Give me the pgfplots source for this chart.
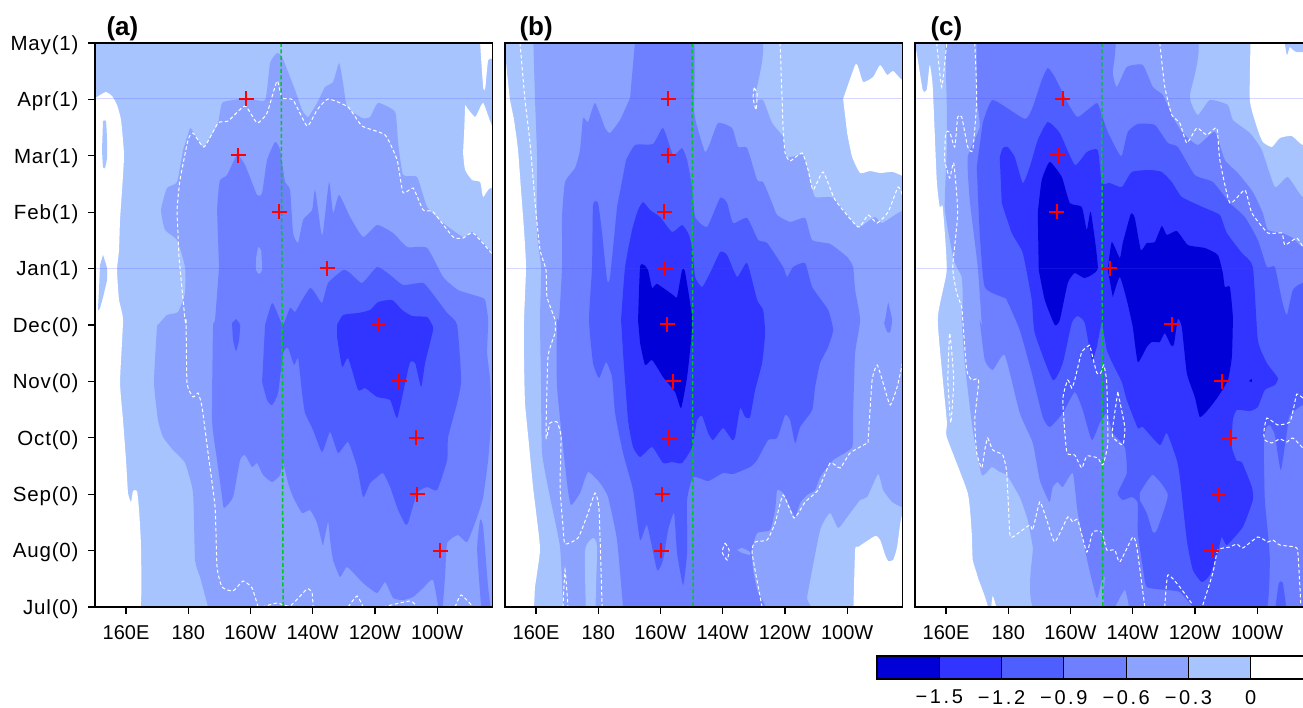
\documentclass[border=0pt]{standalone}
\usepackage{pgfplots}
\pgfplotsset{compat=1.18}
\usepackage{fontspec}
\setmainfont{Liberation Sans}
\newfontfamily\tickf[LetterSpace=4]{Liberation Sans}
\newfontfamily\cbf[LetterSpace=13]{Liberation Sans}
\definecolor{L1}{HTML}{A7C4FF}
\definecolor{L2}{HTML}{8BA2FF}
\definecolor{L3}{HTML}{6E7FFF}
\definecolor{L4}{HTML}{4F5FFF}
\definecolor{L5}{HTML}{3135FF}
\definecolor{L6}{HTML}{0000D7}
\definecolor{gr}{HTML}{00C820}
\newcommand\area[2]{\addplot[fill=#1,draw=none,forget plot,mark=none,smooth,tension=.3] coordinates {#2};}
\newcommand\sig[1]{\addplot[white,line width=1pt,dash pattern=on 3.5pt off 2.5pt,mark=none,forget plot,smooth,tension=.3] coordinates {#1};}
\newcommand\green[1]{\addplot[gr,line width=1.5pt,dash pattern=on 4pt off 2.5pt,mark=none,forget plot] coordinates {#1};}
\newcommand\faint[1]{\addplot[color=blue!70!white,opacity=.22,line width=.8pt,mark=none,forget plot] coordinates {#1};}
\newcommand\cross[1]{\addplot[only marks,mark=+,mark size=7.5pt,red,line width=2pt,forget plot] coordinates {#1};}
\pgfplotsset{
 panel/.style={
  scale only axis,width=397.5pt,height=564pt,anchor=south west,
  x filter/.expression={160+(x-#1)/3.11},
  y filter/.expression={(607-y)/56.4},
  xmin=150.03,xmax=277.8,ymin=0,ymax=10,
  axis on top,axis line style={line width=1.5pt},
  tick pos=left,tick align=outside,major tick length=7pt,
  tick style={line width=1.2pt,black},
  xtick={160,180,200,220,240,260},
  xticklabels={160E,180,160W,140W,120W,100W},
  xticklabel style={font=\fontsize{20}{22}\selectfont,yshift=-8pt},
  yticklabel style={font=\tickf\fontsize{20.5}{22}\selectfont,xshift=-6pt,yshift=-2pt},
  ytick=\empty,
 }
}
\begin{document}
\begin{tikzpicture}
\path[use as bounding box] (0,0) rectangle (1303pt,707pt);
\clip (0,0) rectangle (1303pt,707pt);
\node[anchor=west,font=\bfseries\fontsize{26}{28}\selectfont] at (103pt,678pt) {(a)};
\node[anchor=west,font=\bfseries\fontsize{26}{28}\selectfont] at (516pt,678pt) {(b)};
\node[anchor=west,font=\bfseries\fontsize{26}{28}\selectfont] at (927pt,678pt) {(c)};
%% ---------------- panel a
\begin{axis}[panel=126,at={(95pt,100pt)},
  ytick={0,1,2,3,4,5,6,7,8,9,10},
  yticklabels={Jul(0),Aug(0),Sep(0),Oct(0),Nov(0),Dec(0),Jan(1),Feb(1),Mar(1),Apr(1),May(1)}]
\area{L1}{(80,30)(510,30)(510,620)(80,620)}
\area{white}{(80,98)(95,98)(100,95)(106,92)(112,96)(117,105)(121,120)(124,155)(122,190)(120,220)(119,250)(117,270)(119,300)(123,320)(120,382)(123,420)(126,460)(128,493)(131,502)(133,491)(137,491)(139,510)(141,550)(138,620)(80,620)}
\area{white}{(480,30)(480,43)(483,87)(485,89)(488,60)(493,59)(510,59)(510,30)}
\area{white}{(465,105)(475,117)(483,103)(493,128)(510,135)(510,190)(490,188)(483,197)(480,182)(472,180)(465,170)(463,153)(464,133)}
\area{L1}{(103,121)(106,121)(107,140)(107,158)(105,168)(103,167)(102,150)}
\area{L1}{(103,255)(107,268)(107,280)(103,297)(100,308)(98,310)(99,290)(100,265)}
\area{L2}{(190,128)(192,130)(203,147)(213,133)(218,123)(222,103)(233,100)(247,98)(265,100)(270,63)(277,53)(282,57)(295,90)(302,110)(308,117)(317,103)(325,87)(333,82)(339,63)(343,83)(347,107)(362,118)(370,117)(378,103)(395,112)(398,143)(403,175)(417,177)(427,207)(443,223)(463,237)(473,232)(487,247)(493,253)(510,260)(510,620)(210,620)(208,607)(200,577)(195,560)(193,493)(185,463)(173,450)(163,437)(158,420)(154,382)(157,327)(158,325)(167,315)(178,312)(185,293)(185,267)(177,240)(165,230)(161,210)(167,188)(177,182)(183,150)}
\area{L3}{(217,210)(218,195)(220,180)(227,175)(237,155)(245,165)(257,195)(262,193)(267,160)(275,142)(280,150)(285,182)(290,190)(293,233)(298,243)(303,220)(312,210)(315,190)(321,232)(323,232)(329,182)(333,213)(339,195)(350,217)(363,237)(377,225)(393,233)(407,247)(427,248)(443,277)(458,290)(480,297)(485,300)(488,320)(487,353)(490,380)(491,420)(488,460)(483,497)(477,517)(467,542)(458,535)(447,543)(445,575)(441,620)(433,580)(423,588)(413,597)(403,600)(393,598)(385,582)(377,593)(363,583)(347,567)(340,577)(333,560)(330,540)(328,522)(323,545)(322,543)(317,523)(310,510)(302,513)(293,497)(288,483)(283,463)(280,475)(272,482)(263,475)(257,463)(252,467)(245,455)(240,460)(233,497)(224,508)(222,497)(217,460)(212,420)(213,327)(215,320)(219,267)}
\area{L3}{(482,620)(477,550)(480,520)(483,527)(488,587)(492,620)}
\area{L2}{(258,247)(261,250)(262,270)(259,274)(256,270)(256,258)}
\area{L4}{(265,325)(272,303)(278,315)(283,325)(290,308)(295,312)(302,300)(310,288)(315,293)(322,303)(328,283)(343,270)(350,273)(362,283)(377,267)(390,275)(403,285)(423,283)(435,297)(447,313)(457,325)(461,380)(457,403)(448,437)(447,460)(437,490)(427,487)(417,493)(408,523)(405,524)(398,510)(390,487)(383,473)(377,477)(370,483)(363,497)(357,467)(348,442)(338,453)(330,432)(322,452)(313,430)(305,413)(302,393)(298,358)(294,365)(288,348)(283,353)(278,393)(272,405)(267,400)(262,382)}
\area{L4}{(236,319)(240,325)(239,340)(236,351)(233,340)(232,323)}
\area{L5}{(337,325)(343,315)(358,313)(370,310)(378,302)(392,300)(402,310)(412,316)(427,317)(432,325)(433,330)(425,363)(421,387)(415,363)(410,362)(405,383)(397,418)(390,400)(377,397)(365,388)(358,390)(348,358)(342,367)(337,337)}
\faint{(95,98.6)(493,98.6)}
\faint{(95,268)(493,268)}
\sig{(258,607)(252,588)(243,581)(233,591)(222,587)(217,567)(215,507)(208,453)(202,407)(198,393)(193,397)(187,383)(186,320)(185,320)(179,257)(178,233)(177,210)(180,180)(188,140)(193,133)(204,147)(218,123)(228,121)(245,106)(257,123)(267,113)(277,81)(282,98)(293,100)(307,126)(317,110)(328,99)(348,107)(362,126)(385,135)(397,160)(403,193)(413,188)(423,210)(433,212)(453,237)(463,238)(473,233)(493,255)}
\sig{(262,607)(277,603)(290,606)(307,589)(312,593)(313,607)}
\sig{(348,607)(357,596)(363,607)}
\sig{(383,607)(410,601)(417,607)}
\sig{(455,607)(461,595)(473,607)}
\green{(281,43)(283,607)}
\cross{(246,99)(238,155.3)(279,212)(327,268.3)(378,324.3)(399,381.3)(416,437.7)(417,494.3)(440,550.7)}
\end{axis}
%% ---------------- panel b
\begin{axis}[panel=536,at={(505pt,100pt)}]
\area{L1}{(490,30)(920,30)(920,620)(490,620)}
\area{white}{(490,60)(505,60)(507,73)(510,100)(514,120)(518,150)(521,190)(524,230)(526,267)(524,320)(524,360)(525,403)(529,445)(533,487)(537,520)(540,550)(535,587)(531,620)(490,620)}
\area{white}{(853,620)(855,550)(858,547)(875,536)(880,540)(885,555)(888,561)(893,560)(897,547)(902,515)(920,500)(920,620)}
\area{white}{(843,99)(855,65)(858,67)(863,82)(873,77)(880,65)(887,75)(893,71)(902,80)(920,85)(920,178)(893,172)(880,173)(870,171)(860,173)(852,157)(847,133)}
\area{L2}{(533,30)(755,30)(755,97)(763,100)(772,123)(783,137)(787,157)(803,155)(810,180)(815,197)(833,198)(857,227)(867,222)(875,217)(882,223)(900,212)(920,212)(920,507)(902,507)(892,502)(883,490)(878,474)(867,497)(860,500)(847,517)(838,528)(830,513)(820,530)(807,597)(805,620)(564,620)(563,607)(560,547)(550,497)(542,453)(541,387)(540,320)(541,267)(537,233)(537,157)(535,100)}
\area{L1}{(586,620)(585,550)(593,538)(597,547)(595,620)}
\area{L3}{(636,30)(692,30)(694,110)(698,130)(705,152)(710,143)(718,123)(732,128)(738,147)(747,148)(757,180)(763,182)(772,203)(777,215)(790,222)(805,218)(812,240)(830,244)(847,257)(853,267)(855,290)(860,320)(855,353)(853,413)(852,447)(833,460)(820,477)(815,490)(807,495)(800,503)(795,517)(790,507)(783,493)(777,490)(775,510)(770,530)(757,533)(752,550)(753,570)(757,590)(764,620)(625,620)(623,607)(617,540)(608,497)(600,483)(588,472)(580,493)(571,505)(567,483)(557,387)(557,320)(559,320)(562,267)(562,217)(565,182)(575,168)(580,150)(583,118)(588,122)(595,103)(605,128)(610,133)(620,120)(630,98)}
\area{L2}{(737,550)(742,548)(750,552)(750,555)(742,553)}
\area{L3}{(888,302)(892,320)(890,332)(887,332)(884,323)(885,320)}
\area{L4}{(626,160)(635,145)(653,144)(663,128)(673,155)(682,148)(687,160)(692,187)(695,217)(707,227)(720,198)(727,203)(733,223)(747,218)(758,240)(767,243)(783,267)(787,277)(793,267)(805,263)(812,287)(828,310)(833,330)(828,347)(820,363)(815,387)(812,410)(800,427)(795,443)(790,420)(785,415)(777,438)(768,440)(757,460)(750,467)(733,474)(723,473)(708,481)(693,477)(687,500)(687,553)(683,585)(677,553)(674,513)(668,530)(663,560)(657,570)(647,525)(640,540)(633,490)(623,453)(615,413)(612,377)(606,362)(599,378)(593,363)(589,320)(592,267)(593,205)(598,203)(602,233)(607,280)(610,277)(617,207)}
\area{L5}{(621,320)(625,267)(632,230)(638,210)(643,202)(650,210)(660,217)(672,232)(682,225)(688,233)(692,247)(695,277)(702,287)(710,273)(720,252)(727,255)(737,277)(747,263)(757,300)(763,310)(765,333)(762,363)(755,390)(750,417)(745,417)(740,408)(735,437)(732,440)(723,428)(713,440)(708,433)(702,416)(697,420)(692,447)(682,463)(672,462)(663,463)(652,447)(640,457)(633,447)(628,420)(623,353)}
\area{L6}{(638,320)(640,267)(644,265)(648,270)(652,288)(657,284)(673,295)(677,297)(682,270)(685,272)(692,317)(691,340)(687,377)(681,408)(675,392)(663,377)(652,360)(645,365)(640,343)}
\faint{(505,98.6)(903,98.6)}
\faint{(505,268)(903,268)}
\sig{(520,43)(525,100)(530,143)(536,213)(540,250)(546,270)(547,297)(555,320)(555,333)(548,357)(546,437)(550,423)(557,422)(561,437)(560,487)(563,527)(565,544)(578,538)(588,513)(595,493)(599,510)(602,603)(603,607)}
\sig{(563,607)(565,570)(568,607)}
\sig{(780,43)(783,127)(785,153)(790,161)(802,153)(808,170)(813,190)(823,172)(835,200)(858,227)(868,215)(877,223)(888,212)(898,187)(903,197)}
\sig{(785,43)(788,44)}
\sig{(754,88)(757,93)(756,110)(753,98)(754,88)}
\sig{(762,607)(752,553)(755,542)(767,540)(775,523)(783,495)(794,518)(805,502)(818,490)(830,463)(840,468)(850,453)(867,443)(868,440)(872,380)(877,365)(883,383)(890,405)(897,387)(903,360)}
\sig{(725,543)(729,550)(727,560)(722,552)(725,543)}
\green{(692,43)(693,607)}
\cross{(668,99)(668,155.3)(664,212)(665,268.3)(667,324.3)(673,381.3)(669,437.7)(662,494.3)(661,550.7)}
\end{axis}
%% ---------------- panel c
\begin{axis}[panel=946.3,at={(915pt,100pt)}]
\area{L1}{(900,30)(1330,30)(1330,620)(900,620)}
\area{white}{(900,50)(915,50)(917,53)(923,90)(927,90)(930,65)(933,87)(937,180)(940,207)(943,207)(947,270)(938,320)(947,420)(947,437)(968,493)(972,533)(973,560)(978,577)(988,620)(900,620)}
\area{white}{(991,612)(993,596)(998,612)}
\area{white}{(1251,30)(1250,100)(1258,130)(1263,142)(1272,147)(1280,138)(1292,136)(1303,145)(1330,150)(1330,30)}
\area{L1}{(1283,30)(1287,55)(1290,47)(1297,52)(1330,50)(1330,30)}
\area{L2}{(945,30)(1190,30)(1190,97)(1198,115)(1210,100)(1228,105)(1233,120)(1250,133)(1262,150)(1275,187)(1288,177)(1303,197)(1330,197)(1330,620)(1045,620)(1033,547)(1028,520)(1020,497)(1007,475)(1000,472)(992,467)(982,475)(973,430)(965,363)(962,320)(963,300)(962,277)(955,263)(950,240)(945,207)(947,150)(947,100)}
\area{L3}{(977,30)(1110,30)(1113,73)(1117,87)(1127,67)(1143,65)(1153,87)(1163,95)(1173,117)(1183,133)(1198,145)(1215,132)(1225,160)(1238,173)(1253,192)(1263,213)(1268,230)(1282,233)(1293,238)(1303,247)(1330,250)(1330,620)(1116,620)(1105,577)(1102,580)(1097,598)(1088,563)(1078,513)(1073,473)(1063,487)(1058,482)(1053,487)(1050,502)(1047,497)(1040,480)(1033,443)(1020,413)(1005,355)(993,370)(985,360)(980,320)(982,325)(978,267)(970,200)(968,157)(980,127)(977,100)}
\area{L2}{(1113,612)(1125,590)(1130,612)}
\area{L4}{(983,123)(993,100)(1025,119)(1033,107)(1042,80)(1048,68)(1055,77)(1068,103)(1078,117)(1097,103)(1102,115)(1108,132)(1117,150)(1122,156)(1128,132)(1138,124)(1155,125)(1168,143)(1178,147)(1195,175)(1213,182)(1230,203)(1245,217)(1258,240)(1267,267)(1275,267)(1282,300)(1287,315)(1293,290)(1303,283)(1330,283)(1330,402)(1303,405)(1290,415)(1288,425)(1281,470)(1275,435)(1270,425)(1266,428)(1264,445)(1265,500)(1270,560)(1264,620)(1205,620)(1193,607)(1180,592)(1167,590)(1147,587)(1143,567)(1138,533)(1138,503)(1132,497)(1123,500)(1118,493)(1127,473)(1125,447)(1113,433)(1107,413)(1100,423)(1092,440)(1083,410)(1075,392)(1063,413)(1050,427)(1043,417)(1032,373)(1020,330)(1007,300)(1005,298)(985,287)(980,233)(977,167)}
\area{L3}{(1140,493)(1153,475)(1168,495)(1157,530)(1153,532)(1147,513)(1140,500)}
\area{L4}{(1275,612)(1279,583)(1283,583)(1287,612)}
\area{L5}{(1000,157)(1003,148)(1008,147)(1015,157)(1023,183)(1030,167)(1038,140)(1048,122)(1060,133)(1075,165)(1087,152)(1098,150)(1102,183)(1110,183)(1122,187)(1132,172)(1150,170)(1162,172)(1172,182)(1182,197)(1205,208)(1220,215)(1227,233)(1242,253)(1253,267)(1258,340)(1267,363)(1278,378)(1275,385)(1265,390)(1258,407)(1250,411)(1237,410)(1233,420)(1232,447)(1237,461)(1242,462)(1252,487)(1253,500)(1243,527)(1227,545)(1222,537)(1218,552)(1210,575)(1202,582)(1193,570)(1187,540)(1180,477)(1177,460)(1167,433)(1160,445)(1143,427)(1138,428)(1127,400)(1122,382)(1115,368)(1107,350)(1102,323)(1097,347)(1092,360)(1085,323)(1078,316)(1072,323)(1063,363)(1053,380)(1035,333)(1032,300)(1023,253)(1012,233)(1002,203)}
\area{L6}{(1038,213)(1042,180)(1050,162)(1062,177)(1070,203)(1082,207)(1087,230)(1091,212)(1098,268)(1085,278)(1075,273)(1068,283)(1060,320)(1055,325)(1045,300)(1039,270)}
\area{L6}{(1108,270)(1112,242)(1120,258)(1123,243)(1131,214)(1135,218)(1141,250)(1147,243)(1155,242)(1162,226)(1167,235)(1177,231)(1188,245)(1205,248)(1218,255)(1223,273)(1225,287)(1230,287)(1233,317)(1232,357)(1228,380)(1218,397)(1208,410)(1200,417)(1195,397)(1187,373)(1182,327)(1178,319)(1174,345)(1171,345)(1165,333)(1160,342)(1152,342)(1147,347)(1138,362)(1133,327)(1127,300)(1120,277)(1113,297)}
\area{L6}{(1249,381)(1252,379)(1252,382)}
\faint{(915,98.6)(1320,98.6)}
\faint{(915,268)(1320,268)}
\sig{(937,43)(942,87)(947,43)}
\sig{(975,43)(977,100)(973,150)(968,147)(962,117)(958,117)(955,147)(950,132)(946,133)(945,160)(950,178)(954,163)(958,213)(953,267)(957,293)(962,307)(963,320)(967,370)(972,380)(979,380)(975,420)(977,453)(982,468)(985,450)(988,438)(993,450)(1003,455)(1007,473)(1010,533)(1013,537)(1030,525)(1033,530)(1040,502)(1047,520)(1055,542)(1068,517)(1073,522)(1078,520)(1087,552)(1093,532)(1102,532)(1107,550)(1115,550)(1120,562)(1133,537)(1137,547)(1145,607)}
\sig{(948,380)(950,333)(954,380)(951,423)(948,380)}
\sig{(1090,345)(1082,352)(1075,380)(1072,388)(1068,380)(1063,400)(1067,452)(1075,455)(1082,468)(1087,456)(1098,458)(1103,465)(1108,443)(1107,383)(1104,365)(1101,373)(1097,373)(1090,345)}
\sig{(1118,392)(1113,427)(1113,437)(1123,445)(1125,427)(1118,392)}
\sig{(1160,43)(1165,87)(1172,115)(1180,123)(1187,143)(1197,128)(1207,135)(1217,128)(1220,160)(1230,203)(1245,190)(1252,213)(1268,233)(1282,233)(1285,245)(1297,238)(1303,247)}
\sig{(1203,605)(1213,573)(1218,550)(1230,547)(1237,544)(1243,548)(1258,537)(1268,542)(1273,540)(1280,545)(1295,547)(1298,552)(1301,605)}
\sig{(1165,607)(1168,575)(1180,587)(1193,605)}
\sig{(1303,398)(1297,394)(1294,407)(1290,422)(1278,425)(1267,418)(1264,432)(1265,440)(1272,443)(1280,439)(1287,442)(1293,438)(1303,448)}
\green{(1102,43)(1103,607)}
\cross{(1063,99)(1058,155.3)(1057,212)(1110,268.3)(1172,324.3)(1222,381.3)(1230,437.7)(1219,494.3)(1212,550.7)}
\end{axis}
%% ---------------- colour bar
\begin{axis}[scale only axis,width=436pt,height=23pt,anchor=south west,at={(877pt,28pt)},
  xmin=-1.8,xmax=0.3,ymin=0,ymax=1,ytick=\empty,axis on top,
  axis line style={line width=1.5pt},
  xtick={-1.5,-1.2,-0.9,-0.6,-0.3,0},
  xticklabels={−1.5,−1.2,−0.9,−0.6,−0.3,0},
  xmajorgrids,major grid style={black,line width=1.2pt},
  major tick length=0pt,
  xticklabel style={font=\cbf\fontsize{20}{21}\selectfont,inner sep=0pt,yshift=-11pt}]
\addplot[fill=L6,draw=none,mark=none] coordinates {(-1.8,0)(-1.5,0)(-1.5,1)(-1.8,1)};
\addplot[fill=L5,draw=none,mark=none] coordinates {(-1.5,0)(-1.2,0)(-1.2,1)(-1.5,1)};
\addplot[fill=L4,draw=none,mark=none] coordinates {(-1.2,0)(-0.9,0)(-0.9,1)(-1.2,1)};
\addplot[fill=L3,draw=none,mark=none] coordinates {(-0.9,0)(-0.6,0)(-0.6,1)(-0.9,1)};
\addplot[fill=L2,draw=none,mark=none] coordinates {(-0.6,0)(-0.3,0)(-0.3,1)(-0.6,1)};
\addplot[fill=L1,draw=none,mark=none] coordinates {(-0.3,0)(0,0)(0,1)(-0.3,1)};
\end{axis}
\end{tikzpicture}
\end{document}
